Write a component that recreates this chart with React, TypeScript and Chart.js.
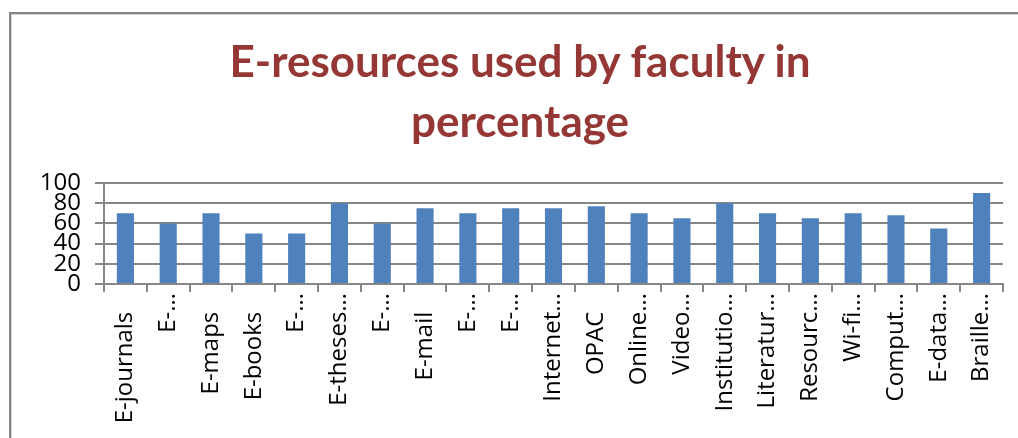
import React, { useEffect, useRef } from "react";
import { Chart, registerables } from "chart.js";

Chart.register(...registerables);

const categories: string[] = [
  "E-journals", "E-…", "E-maps", "E-books", "E-…", "E-theses…", "E-…", "E-mail", "E-…", "E-…",
  "Internet…", "OPAC", "Online…", "Video…", "Institutio…", "Literatur…", "Resourc…", "Wi-fi…",
  "Comput…", "E-data…", "Braille…",
];
const percentages: number[] = [70, 60, 70, 50, 50, 80, 60, 75, 70, 75, 75, 77, 70, 65, 80, 70, 65, 70, 68, 55, 90];
const yMin = 0;
const yMax = 100;
const yStep = 20;
const titleLines: string[] = ["E-resources used by faculty in", "percentage"];

export default function App() {
  const ref = useRef<HTMLCanvasElement | null>(null);

  useEffect(() => {
    if (!ref.current) return;
    const chart = new Chart(ref.current, {
      type: "bar",
      data: {
        labels: categories,
        datasets: [
          {
            data: percentages,
            backgroundColor: "#4F81BD",
            borderWidth: 0,
            categoryPercentage: 1,
            barPercentage: 0.4,
          },
        ],
      },
      options: {
        animation: false,
        responsive: false,
        maintainAspectRatio: false,
        layout: { padding: { top: 183, right: 15, left: 0, bottom: 0 } },
        plugins: {
          legend: { display: false },
          title: { display: false },
          tooltip: { enabled: false },
        },
        scales: {
          x: {
            offset: true,
            grid: {
              offset: true,
              drawOnChartArea: false,
              drawTicks: true,
              tickLength: 8,
              color: "#868686",
              lineWidth: 2,
            },
            border: { display: true, color: "#868686", width: 2 },
            ticks: {
              autoSkip: false,
              minRotation: 90,
              maxRotation: 90,
              padding: 1,
              color: "#000",
              font: { family: "'Open Sans'", size: 24 },
              callback: (_v: any, i: number) => {
                const s = categories[i];
                // untruncated labels sit a little lower in the original
                return s.endsWith("…") ? s : s + "   ";
              },
            },
            afterFit: (scale: any) => {
              scale.height = 154;
            },
          },
          y: {
            min: yMin,
            max: yMax,
            grid: {
              color: "#868686",
              lineWidth: 2,
              drawTicks: true,
              tickLength: 9,
            },
            border: { display: true, color: "#868686", width: 2 },
            ticks: {
              stepSize: yStep,
              autoSkip: false,
              padding: 14,
              color: "#000",
              font: { family: "'Open Sans'", size: 24, lineHeight: 1 },
            },
            afterFit: (scale: any) => {
              scale.width = 104;
            },
          },
        },
      },
    });
    return () => chart.destroy();
  }, []);

  return (
    <div
      style={{
        position: "absolute",
        left: 0,
        top: 0,
        width: 1018,
        height: 438,
        overflow: "hidden",
        background: "#fff",
      }}
    >
      <div
        style={{
          position: "absolute",
          left: 9,
          top: 12,
          width: 1100,
          height: 600,
          border: "2px solid #858585",
          boxShadow: "inset 1px 1px 0 #d0d0d0",
        }}
      />
      <canvas
        ref={ref}
        width={1018}
        height={438}
        style={{ position: "absolute", left: 0, top: 0, width: 1018, height: 438 }}
      />
      <div
        style={{
          position: "absolute",
          left: 0,
          top: 30,
          width: 1040,
          textAlign: "center",
          fontFamily: "Lato",
          fontWeight: 700,
          fontSize: 44,
          lineHeight: "60px",
          color: "#953735",
        }}
      >
        {titleLines.map((l, i) => (
          <div key={i}>{l}</div>
        ))}
      </div>
    </div>
  );
}
